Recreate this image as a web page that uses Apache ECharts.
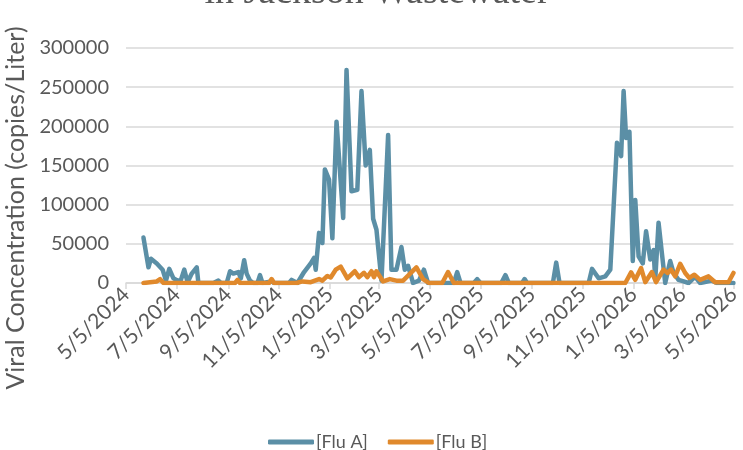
<!DOCTYPE html>
<html>
<head>
<meta charset="utf-8">
<script src="https://cdn.jsdelivr.net/npm/echarts@6/dist/echarts.min.js"></script>
<style>
html,body{margin:0;padding:0;background:#fff;}
#chart{width:743px;height:450px;}
</style>
</head>
<body>
<div id="chart"></div>
<script>
// ---- data ----
const titleText = "in Jackson Wastewater";
const yAxisTitle = "Viral Concentration (copies/Liter)";
const seriesNames = ["[Flu A]", "[Flu B]"];
const xTickDates = ["2024-05-05","2024-07-05","2024-09-05","2024-11-05","2025-01-05","2025-03-05","2025-05-05","2025-07-05","2025-09-05","2025-11-05","2026-01-05","2026-03-05","2026-05-05"];
const yMin = 0, yMax = 300000, yStep = 50000;

const fluADates = ["2024-05-26","2024-06-01","2024-06-04","2024-06-11","2024-06-18","2024-06-22","2024-06-26","2024-07-01","2024-07-06","2024-07-10","2024-07-14","2024-07-18","2024-07-23","2024-07-29","2024-07-31","2024-08-18","2024-08-24","2024-08-27","2024-09-03","2024-09-07","2024-09-11","2024-09-17","2024-09-20","2024-09-24","2024-09-27","2024-10-01","2024-10-05","2024-10-10","2024-10-13","2024-10-16","2024-10-27","2024-10-30","2024-11-17","2024-11-20","2024-11-27","2024-12-05","2024-12-13","2024-12-17","2024-12-19","2024-12-23","2024-12-27","2024-12-30","2025-01-04","2025-01-08","2025-01-13","2025-01-21","2025-01-25","2025-01-31","2025-02-07","2025-02-12","2025-02-17","2025-02-22","2025-02-26","2025-03-02","2025-03-04","2025-03-08","2025-03-16","2025-03-20","2025-03-26","2025-04-01","2025-04-05","2025-04-09","2025-04-15","2025-04-22","2025-04-28","2025-05-03","2025-06-03","2025-06-07","2025-06-11","2025-06-27","2025-07-01","2025-07-05","2025-07-30","2025-08-04","2025-08-08","2025-08-24","2025-08-27","2025-08-30","2025-09-30","2025-10-04","2025-10-08","2025-11-12","2025-11-16","2025-11-24","2025-12-02","2025-12-08","2025-12-16","2025-12-21","2025-12-24","2025-12-27","2025-12-31","2026-01-04","2026-01-07","2026-01-11","2026-01-16","2026-01-20","2026-01-25","2026-01-29","2026-01-31","2026-02-04","2026-02-08","2026-02-12","2026-02-18","2026-02-22","2026-02-28","2026-03-06","2026-03-12","2026-03-20","2026-03-26","2026-04-09","2026-04-15","2026-05-05"];
const fluAValues = [58000,20000,31000,25000,17000,3000,18000,6000,3000,4000,17000,1000,12000,20000,0,0,3000,0,0,15000,12000,14000,6000,29000,12000,3000,0,0,10000,0,2000,0,0,4000,0,14000,25000,32000,17000,64000,51000,145000,132000,57000,206000,83000,272000,117000,119000,245000,150000,170000,82000,68000,46000,3000,189000,17000,17000,46000,17000,22000,0,3000,17000,0,0,14000,0,0,5000,0,0,10000,0,0,5000,0,0,26000,0,0,18000,6000,8500,17000,179000,162000,245000,185000,193000,28000,106000,34000,25000,66000,30000,42000,4000,77000,38000,0,28000,13000,4000,2000,0,8000,0,3000,0,0];

const fluBDates = ["2024-05-26","2024-06-11","2024-06-15","2024-06-19","2024-09-13","2024-09-16","2024-09-19","2024-10-24","2024-10-27","2024-10-30","2024-11-26","2024-12-03","2024-12-13","2024-12-23","2024-12-27","2025-01-02","2025-01-06","2025-01-12","2025-01-18","2025-01-26","2025-02-04","2025-02-09","2025-02-15","2025-02-19","2025-02-24","2025-02-27","2025-03-02","2025-03-10","2025-03-18","2025-03-26","2025-04-03","2025-04-19","2025-04-27","2025-05-04","2025-05-20","2025-05-27","2025-06-03","2025-12-26","2026-01-02","2026-01-07","2026-01-14","2026-01-19","2026-01-27","2026-02-01","2026-02-10","2026-02-15","2026-02-19","2026-02-24","2026-03-02","2026-03-08","2026-03-13","2026-03-19","2026-03-26","2026-04-05","2026-04-13","2026-04-29","2026-05-05"];
const fluBValues = [0,2000,5000,0,0,4000,0,0,5000,0,0,2000,1000,5000,3000,9000,7000,17000,21000,6000,15000,7500,13000,7500,15000,7500,15000,2000,5000,3000,3000,20000,5000,0,0,14000,0,0,13500,4000,19000,1000,14000,1000,17000,12800,17000,8500,24600,12800,6400,10600,4000,8500,1000,1000,12800];

// ---- helpers ----
function ts(s){ const p = s.split('-').map(Number); return new Date(p[0], p[1]-1, p[2]).getTime(); }
function pairs(dates, vals){ return dates.map((d,i)=>[ts(d), vals[i]]); }
function fmt(v){ const d = new Date(v); return (d.getMonth()+1) + '/' + d.getDate() + '/' + d.getFullYear(); }

const tickTs = xTickDates.map(ts);
const textColor = '#595959';
const gridColor = '#d9d9d9';
const colA = '#5b8fa6';
const colB = '#e0892c';
const font = 'Lato, "Noto Sans", sans-serif';

const chart = echarts.init(document.getElementById('chart'), null, {renderer:'canvas'});
chart.setOption({
  animation:false,
  backgroundColor:'#fff',
  grid:{left:126, right:1, top:48, bottom:167, containLabel:false},
  graphic:[
    {type:'text', x:377, y:-7, style:{text:titleText, font:'38px "Liberation Serif", serif', fill:'#595959', align:'center', verticalAlign:'middle'}},
    {type:'text', x:16, y:208, rotation:Math.PI/2, style:{text:yAxisTitle, font:'25px Lato, sans-serif', fill:textColor, align:'center', verticalAlign:'middle'}}
  ],
  legend:{
    data:seriesNames, left:263, top:428, itemWidth:46, itemHeight:5, itemGap:20,
    icon:'roundRect',
    textStyle:{color:textColor, fontSize:18, fontFamily:font, padding:[0,0,0,-3]}
  },
  xAxis:{
    type:'value', min:tickTs[0], max:tickTs[tickTs.length-1],
    axisLine:{show:true, lineStyle:{color:gridColor, width:1.5}},
    axisTick:{show:true, customValues:tickTs, length:6, lineStyle:{color:gridColor, width:1.5}},
    axisLabel:{customValues:tickTs, rotate:45, formatter:fmt, color:textColor, fontSize:21, fontFamily:font, margin:8, hideOverlap:false},
    splitLine:{show:false}
  },
  yAxis:{
    type:'value', min:yMin, max:yMax, interval:yStep,
    axisLine:{show:false}, axisTick:{show:false},
    axisLabel:{formatter:v=>String(v), color:textColor, fontSize:20, fontFamily:font, margin:17},
    splitLine:{lineStyle:{color:gridColor, width:1.5}}
  },
  series:[
    {name:seriesNames[0], type:'line', data:pairs(fluADates, fluAValues), showSymbol:false, symbol:'none', color:colA,
     lineStyle:{width:4.5, color:colA, join:'round', cap:'round'}},
    {name:seriesNames[1], type:'line', data:pairs(fluBDates, fluBValues), showSymbol:false, symbol:'none', color:colB,
     lineStyle:{width:4.5, color:colB, join:'round', cap:'round'}}
  ]
});
</script>
</body>
</html>
